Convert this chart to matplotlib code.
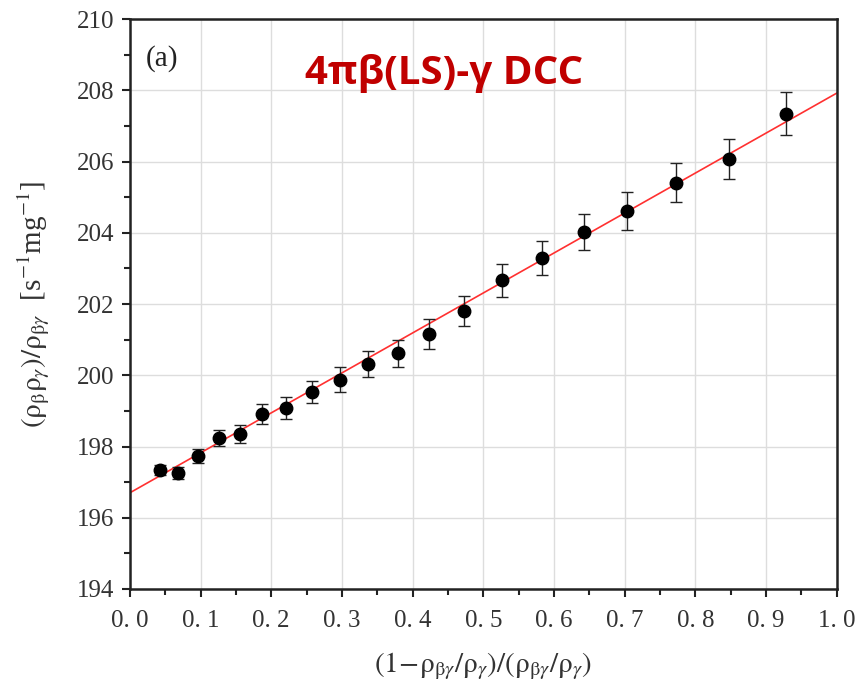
import matplotlib
matplotlib.use("Agg")
import matplotlib.pyplot as plt
from matplotlib.ticker import MultipleLocator
import numpy as np

# Data.
x_vals = [0.042, 0.068, 0.096, 0.126, 0.156, 0.187, 0.221, 0.257, 0.297, 0.337,
          0.379, 0.423, 0.472, 0.526, 0.583, 0.642, 0.703, 0.772, 0.847, 0.928]
y_vals = [197.34, 197.26, 197.74, 198.24, 198.35, 198.91, 199.08, 199.53, 199.88, 200.32,
          200.62, 201.16, 201.80, 202.67, 203.29, 204.02, 204.61, 205.40, 206.07, 207.34]
y_errs = [0.15, 0.17, 0.20, 0.23, 0.26, 0.28, 0.31, 0.32, 0.34, 0.36,
          0.38, 0.41, 0.43, 0.46, 0.48, 0.50, 0.52, 0.55, 0.57, 0.60]
fit_intercept = 196.70
fit_slope = 11.22

x_ticks = [0.0, 0.1, 0.2, 0.3, 0.4, 0.5, 0.6, 0.7, 0.8, 0.9, 1.0]
x_tick_labels = ['0. 0', '0. 1', '0. 2', '0. 3', '0. 4', '0. 5',
                 '0. 6', '0. 7', '0. 8', '0. 9', '1. 0']
y_ticks = [194, 196, 198, 200, 202, 204, 206, 208, 210]

plt.rcParams['font.family'] = ['Liberation Serif', 'DejaVu Serif']
plt.rcParams['mathtext.fontset'] = 'stix'

fig = plt.figure(figsize=(8.6, 6.86), dpi=100)
ax = fig.add_axes([0.151, 0.1414, 0.822, 0.8309])

# Grid behind everything.
ax.set_axisbelow(True)
ax.grid(True, which='major', color='#dddddd', linewidth=1.0)

# Linear fit.
fit_x = np.array([0.0, 1.0])
ax.plot(fit_x, fit_intercept + fit_slope * fit_x, color='#ff3030', linewidth=1.2, zorder=2)

# Data with error bars.
ax.errorbar(x_vals, y_vals, yerr=y_errs, fmt='o', color='black', markersize=9,
            ecolor='#222222', elinewidth=1.0, capsize=4, capthick=1.0, zorder=3)

# Format plot.
ax.set_xlim(0.0, 1.0)
ax.set_ylim(194, 210)
ax.set_xticks(x_ticks)
ax.set_xticklabels(x_tick_labels)
ax.set_yticks(y_ticks)
ax.xaxis.set_minor_locator(MultipleLocator(0.05))
ax.yaxis.set_minor_locator(MultipleLocator(1))
ax.tick_params(which='major', direction='out', length=6, width=1.5,
               labelsize=18, colors='#222222', labelcolor='#333333')
ax.tick_params(axis='x', which='major', pad=9)
ax.tick_params(axis='y', which='major', pad=5)
ax.tick_params(which='minor', direction='out', length=4, width=1.5, colors='#222222')
for spine in ax.spines.values():
    spine.set_linewidth(1.8)
    spine.set_color('#222222')

ax.set_xlabel(r'$(1\!-\!\mathrm{\rho}_{\mathrm{\beta}\gamma}/\mathrm{\rho}_{\gamma})/'
              r'(\mathrm{\rho}_{\mathrm{\beta}\gamma}/\mathrm{\rho}_{\gamma})$',
              fontsize=21, color='#333333', labelpad=13)
ax.set_ylabel(r'$(\mathrm{\rho}_{\mathrm{\beta}}\mathrm{\rho}_{\gamma})/'
              r'\mathrm{\rho}_{\mathrm{\beta}\gamma}$  [s$^{-1}$mg$^{-1}$]',
              fontsize=21, color='#333333', labelpad=18)

ax.text(0.022, 0.93, '(a)', transform=ax.transAxes, fontsize=21, color='#222222',
        ha='left', va='center')
ax.text(0.445, 0.905, '4πβ(LS)-γ DCC', transform=ax.transAxes, fontsize=29,
        fontweight='bold', color='#c00000', ha='center', va='center',
        family=['Open Sans', 'DejaVu Sans'])

fig.savefig('out.png', dpi=100)
